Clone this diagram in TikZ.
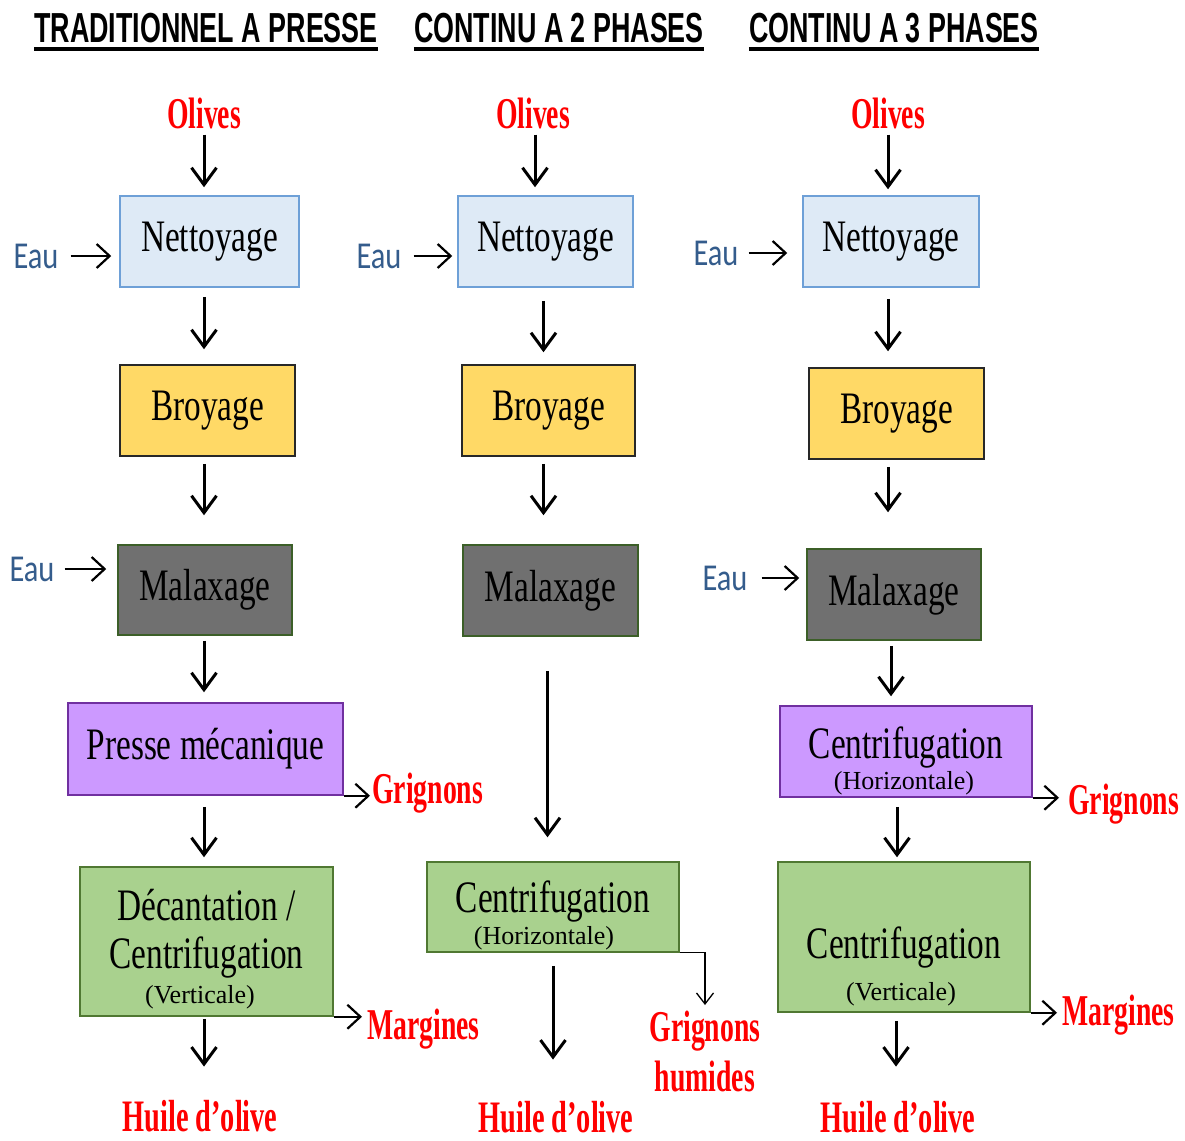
\documentclass[tikz,border=0pt]{standalone}
\usepackage{fontspec}
\usepackage{tikz}
\usetikzlibrary{arrows.meta}
\setmainfont{Liberation Serif}
\newfontfamily\boxFont[FakeStretch=0.74]{Liberation Serif}
\newfontfamily\redFont[FakeStretch=0.63]{Liberation Serif}
\newfontfamily\headFont[FakeStretch=0.64]{Liberation Sans}
\newfontfamily\eauFont[FakeStretch=0.8]{Carlito}
\definecolor{oliveRed}{RGB}{255,0,0}
\definecolor{eauBlue}{RGB}{52,92,140}
\definecolor{blueFill}{RGB}{222,234,246}
\definecolor{blueLine}{RGB}{110,160,215}
\definecolor{yellowFill}{RGB}{255,217,102}
\definecolor{yellowLine}{RGB}{40,40,40}
\definecolor{greyFill}{RGB}{112,112,112}
\definecolor{greyLine}{RGB}{60,95,40}
\definecolor{purpleFill}{RGB}{204,153,255}
\definecolor{purpleLine}{RGB}{112,48,160}
\definecolor{greenFill}{RGB}{169,209,142}
\definecolor{greenLine}{RGB}{80,120,50}

\begin{document}
\begin{tikzpicture}[x=1pt, y=-1pt,
    procBox/.style={draw, line width=1.5pt, inner sep=0pt, align=center,
        font=\boxFont\fontsize{45}{48}\selectfont},
    subText/.style={inner sep=0pt, font=\fontsize{26}{28}\selectfont},
    redText/.style={text=oliveRed, inner sep=1pt, align=center,
        font=\redFont\bfseries\fontsize{44}{50}\selectfont},
    huileText/.style={redText, font=\redFont\bfseries\fontsize{45}{50}\selectfont},
    eauText/.style={text=eauBlue, inner sep=1pt, font=\eauFont\fontsize{38}{40}\selectfont},
    headText/.style={inner sep=0pt, font=\headFont\bfseries\fontsize{42}{44}\selectfont},
    flow/.style={-{Straight Barb[length=17pt,width=25pt]}, line width=3pt},
    side/.style={-{Straight Barb[length=13pt,width=24pt]}, line width=2.2pt},
    thinFlow/.style={-{Straight Barb[length=11pt,width=17pt]}, line width=1.3pt},
]
    \useasboundingbox (0,0) rectangle (1185,1140);

    % titres
    \node[headText, anchor=base] (headA) at (206,42) {TRADITIONNEL A PRESSE};
    \node[headText, anchor=base] (headB) at (559,42) {CONTINU A 2 PHASES};
    \node[headText, anchor=base] (headC) at (894,42) {CONTINU A 3 PHASES};
    \foreach \h in {headA,headB,headC}
        \draw[line width=4.5pt] ([yshift=-7pt]\h.base west) -- ([yshift=-7pt]\h.base east);

    % traditionnel a presse
    \node[redText, anchor=base] (olivesA) at (204,128) {Olives};
    \node[procBox, fill=blueFill, draw=blueLine, minimum width=179, minimum height=91] (nettoyageA) at (209.5,241.5) {Nettoyage};
    \node[eauText] (eauA) at (36,256) {Eau};
    \node[procBox, fill=yellowFill, draw=yellowLine, minimum width=175, minimum height=91] (broyageA) at (207.5,410.5) {Broyage};
    \node[procBox, fill=greyFill, draw=greyLine, minimum width=174, minimum height=90] (malaxageA) at (205,590) {Malaxage};
    \node[eauText] (eauA2) at (32,569) {Eau};
    \node[procBox, fill=purpleFill, draw=purpleLine, minimum width=275, minimum height=92] (presseA) at (205.5,749) {Presse mécanique};
    \node[redText, anchor=base west] (grignonsA) at (371,803) {Grignons};
    \node[procBox, fill=greenFill, draw=greenLine, minimum width=253, minimum height=149, text depth=26pt] (decantA) at (206.5,941.5) {Décantation /\\Centrifugation};
    \node[subText] (vertA) at (200,997) {(Verticale)};
    \node[redText, anchor=base west] (marginesA) at (366,1039) {Margines};
    \node[huileText, anchor=base] (huileA) at (200,1131) {Huile d’olive};

    \draw[flow, shorten <=5pt, shorten >=8pt] (olivesA.south) -- (nettoyageA.north -| olivesA);
    \draw[flow, shorten <=9pt, shorten >=15pt] (nettoyageA.south -| olivesA) -- (broyageA.north -| olivesA);
    \draw[flow, shorten <=7pt, shorten >=29pt] (broyageA.south -| olivesA) -- (malaxageA.north -| olivesA);
    \draw[flow, shorten <=5pt, shorten >=10pt] (malaxageA.south -| olivesA) -- (presseA.north -| olivesA);
    \draw[flow, shorten <=11pt, shorten >=9pt] (presseA.south -| olivesA) -- (decantA.north -| olivesA);
    \draw[flow, shorten <=2pt, shorten >=32pt] (decantA.south -| olivesA) -- (huileA.north -| olivesA);
    \draw[side, shorten <=11pt, shorten >=8pt] (eauA.east) -- (eauA.east -| nettoyageA.west);
    \draw[side, shorten <=9pt, shorten >=11pt] (eauA2.east) -- (eauA2.east -| malaxageA.west);
    \draw[side, shorten >=1pt] (presseA.south east) -- (presseA.south east -| grignonsA.west);
    \draw[side, shorten >=4pt] (decantA.south east) -- (decantA.south east -| marginesA.west);

    % continu a 2 phases
    \node[redText, anchor=base] (olivesB) at (533,128) {Olives};
    \node[procBox, fill=blueFill, draw=blueLine, minimum width=175, minimum height=91] (nettoyageB) at (545.5,241.5) {Nettoyage};
    \node[eauText] (eauB) at (379,256) {Eau};
    \node[procBox, fill=yellowFill, draw=yellowLine, minimum width=173, minimum height=91] (broyageB) at (548.5,410.5) {Broyage};
    \node[procBox, fill=greyFill, draw=greyLine, minimum width=175, minimum height=91] (malaxageB) at (550.5,590.5) {Malaxage};
    \node[procBox, fill=greenFill, draw=greenLine, minimum width=252, minimum height=90, text depth=20pt] (centriB) at (553,907) {Centrifugation};
    \node[subText] (horB) at (544,938) {(Horizontale)};
    \node[redText, anchor=north] (grignonsB) at (705,1010) {Grignons\\humides};
    \node[huileText, anchor=base] (huileB) at (556,1132) {Huile d’olive};

    \draw[flow, shorten <=5pt, shorten >=8pt] ([xshift=2pt]olivesB.south) -- ([xshift=2pt]olivesB.south |- nettoyageB.north);
    \draw[flow, shorten <=13pt, shorten >=12pt] ([xshift=-2pt]nettoyageB.south) -- ([xshift=-2pt]broyageB.north -| nettoyageB);
    \draw[flow, shorten <=7pt, shorten >=29pt] ([xshift=-5pt]broyageB.south) -- ([xshift=-5pt]malaxageB.north -| broyageB);
    \draw[flow, shorten <=34pt, shorten >=24pt] ([xshift=-3pt]malaxageB.south) -- ([xshift=-3pt]centriB.north -| malaxageB);
    \draw[flow, shorten <=13pt, shorten >=40pt] (centriB.south) -- (huileB.north -| centriB);
    \draw[side, shorten <=11pt, shorten >=5pt] (eauB.east) -- (eauB.east -| nettoyageB.west);
    \draw[thinFlow, shorten >=5pt] (centriB.south east) -| (grignonsB.north);

    % continu a 3 phases
    \node[redText, anchor=base] (olivesC) at (888,128) {Olives};
    \node[procBox, fill=blueFill, draw=blueLine, minimum width=176, minimum height=91] (nettoyageC) at (891,241.5) {Nettoyage};
    \node[eauText] (eauC) at (716,253) {Eau};
    \node[procBox, fill=yellowFill, draw=yellowLine, minimum width=175, minimum height=91] (broyageC) at (896.5,413.5) {Broyage};
    \node[procBox, fill=greyFill, draw=greyLine, minimum width=174, minimum height=91] (malaxageC) at (894,594.5) {Malaxage};
    \node[eauText] (eauC2) at (725,578) {Eau};
    \node[procBox, fill=purpleFill, draw=purpleLine, minimum width=252, minimum height=91, text depth=17pt] (centriHC) at (906,751.5) {Centrifugation};
    \node[subText] (horC) at (904,783) {(Horizontale)};
    \node[redText, anchor=base west] (grignonsC) at (1067,814) {Grignons};
    \node[procBox, fill=greenFill, draw=greenLine, minimum width=252, minimum height=150, text height=52pt] (centriVC) at (904,937) {Centrifugation};
    \node[subText] (vertC) at (901,994) {(Verticale)};
    \node[redText, anchor=base west] (marginesC) at (1061,1025) {Margines};
    \node[huileText, anchor=base] (huileC) at (898,1132) {Huile d’olive};

    \draw[flow, shorten <=5pt, shorten >=6pt] (olivesC.south) -- (nettoyageC.north -| olivesC);
    \draw[flow, shorten <=11pt, shorten >=16pt] (nettoyageC.south -| olivesC) -- (broyageC.north -| olivesC);
    \draw[flow, shorten <=7pt, shorten >=36pt] (broyageC.south -| olivesC) -- (malaxageC.north -| olivesC);
    \draw[flow, shorten <=5pt, shorten >=9pt] ([xshift=-3pt]malaxageC.south) -- ([xshift=-3pt]centriHC.north -| malaxageC);
    \draw[flow, shorten <=9pt, shorten >=4pt] ([xshift=-9pt]centriHC.south) -- ([xshift=-9pt]centriVC.north -| centriHC);
    \draw[flow, shorten <=8pt, shorten >=33pt] ([xshift=-8pt]centriVC.south) -- ([xshift=-8pt]huileC.north -| centriVC);
    \draw[side, shorten <=9pt, shorten >=15pt] (eauC.east) -- (eauC.east -| nettoyageC.west);
    \draw[side, shorten <=13pt, shorten >=7pt] (eauC2.east) -- (eauC2.east -| malaxageC.west);
    \draw[side, shorten >=8pt] (centriHC.south east) -- (centriHC.south east -| grignonsC.west);
    \draw[side, shorten >=4pt] (centriVC.south east) -- (centriVC.south east -| marginesC.west);
\end{tikzpicture}
\end{document}
